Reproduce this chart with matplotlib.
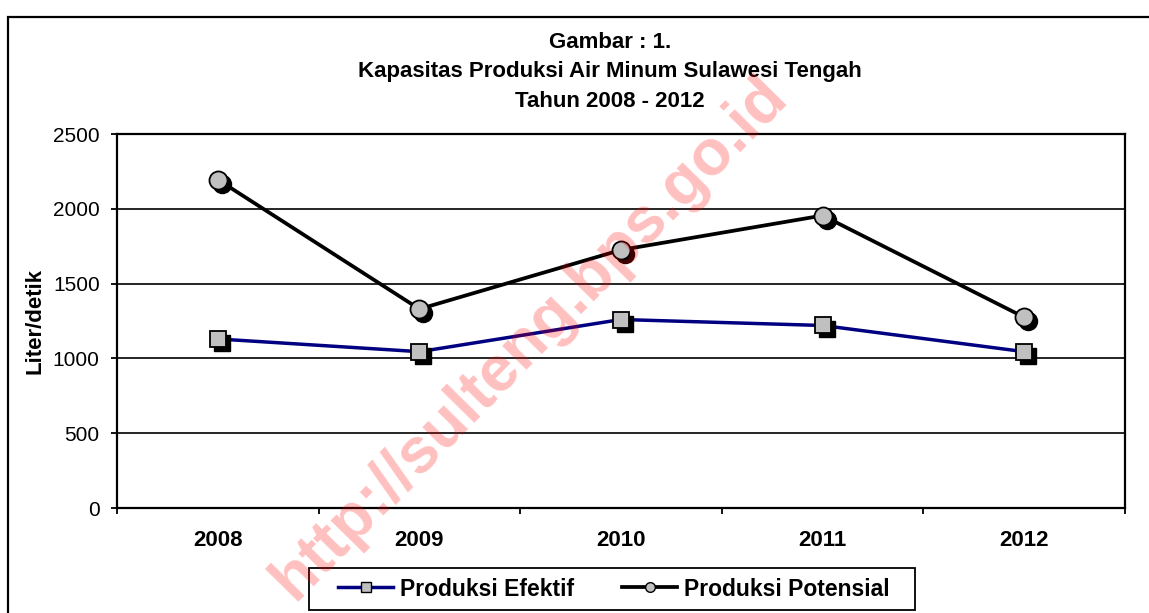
import matplotlib
matplotlib.use('Agg')
import matplotlib.pyplot as plt
from matplotlib.lines import Line2D
from matplotlib.patches import Rectangle
from matplotlib import transforms

# data
years = ['2008', '2009', '2010', '2011', '2012']
efektif = [1130, 1045, 1260, 1220, 1045]
potensial = [2195, 1330, 1725, 1955, 1275]
y_ticks = [0, 500, 1000, 1500, 2000, 2500]

plt.rcParams['font.family'] = ['Liberation Sans', 'DejaVu Sans']

W, H = 1149, 613
fig = plt.figure(figsize=(W / 100, H / 100), dpi=100)
ax = fig.add_axes([117 / W, 1 - 508 / H, (1125 - 117) / W, (508 - 134) / H])

x = list(range(len(years)))
shadow = transforms.offset_copy(ax.transData, fig=fig, x=4, y=-4, units='dots')

# garis efektif
ax.plot(x, efektif, color='#000080', lw=2.5, zorder=3)
ax.plot(x, efektif, ls='none', marker='s', ms=12, color='black', transform=shadow, zorder=4)
ax.plot(x, efektif, ls='none', marker='s', ms=12, mfc='#c0c0c0', mec='black', mew=1.3, zorder=5)

# garis potensial
ax.plot(x, potensial, color='black', lw=2.7, zorder=3)
ax.plot(x, potensial, ls='none', marker='o', ms=13, color='black', transform=shadow, zorder=4)
ax.plot(x, potensial, ls='none', marker='o', ms=13, mfc='#c0c0c0', mec='black', mew=1.3, zorder=5)

ax.set_xlim(-0.5, len(years) - 0.5)
ax.set_ylim(0, 2500)
ax.set_yticks(y_ticks)
ax.set_yticklabels([str(v) for v in y_ticks], fontsize=15)
ax.yaxis.grid(True, color='black', lw=1.2)
ax.set_axisbelow(True)
ax.tick_params(axis='y', direction='out', length=4.5, width=1.3, pad=8)

ax.set_xticks(x)
ax.set_xticklabels(years, fontsize=16, fontweight='bold')
ax.set_xticks([i - 0.5 for i in range(len(years) + 1)], minor=True)
ax.tick_params(axis='x', which='major', length=0, pad=16)
ax.tick_params(axis='x', which='minor', direction='out', length=4, width=1.3)

for s in ax.spines.values():
    s.set_linewidth(1.6)
    s.set_color('black')

ax.set_ylabel('Liter/detik', fontsize=16, fontweight='bold', labelpad=5)

fig.text(610 / W, 1 - 72 / H, 'Gambar : 1.\nKapasitas Produksi Air Minum Sulawesi Tengah\nTahun 2008 - 2012',
         ha='center', va='center', fontsize=16, fontweight='bold', linespacing=1.55)

# bingkai luar
fig.add_artist(Rectangle((8 / W, -0.2), 1.2, 1.2 - 17 / H, transform=fig.transFigure,
                         fill=False, edgecolor='black', lw=1.6))

# kotak legenda
fig.add_artist(Rectangle((309 / W, 1 - 610 / H), (915 - 309) / W, 42 / H, transform=fig.transFigure,
                         fill=False, edgecolor='black', lw=1.3))

handles = [
    Line2D([], [], color='#000080', lw=2.5, marker='s', ms=7, mfc='#c0c0c0', mec='black'),
    Line2D([], [], color='black', lw=2.7, marker='o', ms=7, mfc='#c0c0c0', mec='black'),
]
leg = fig.legend(handles, ['Produksi Efektif', 'Produksi Potensial'], ncol=2,
                 loc='center', bbox_to_anchor=(614 / W, 1 - 589 / H),
                 prop={'size': 16.5, 'weight': 'bold'}, frameon=False,
                 handlelength=2.4, handletextpad=0.3, columnspacing=2.1,
                 borderpad=0.3)

# watermark
fig.text(530 / W, 1 - 338 / H, 'http://sulteng.bps.go.id', rotation=45.5,
         rotation_mode='anchor', ha='center', va='center', fontsize=46,
         fontweight='bold', color='#ff0000', alpha=0.25, zorder=10)

fig.savefig('out.png', dpi=100, facecolor='white')
